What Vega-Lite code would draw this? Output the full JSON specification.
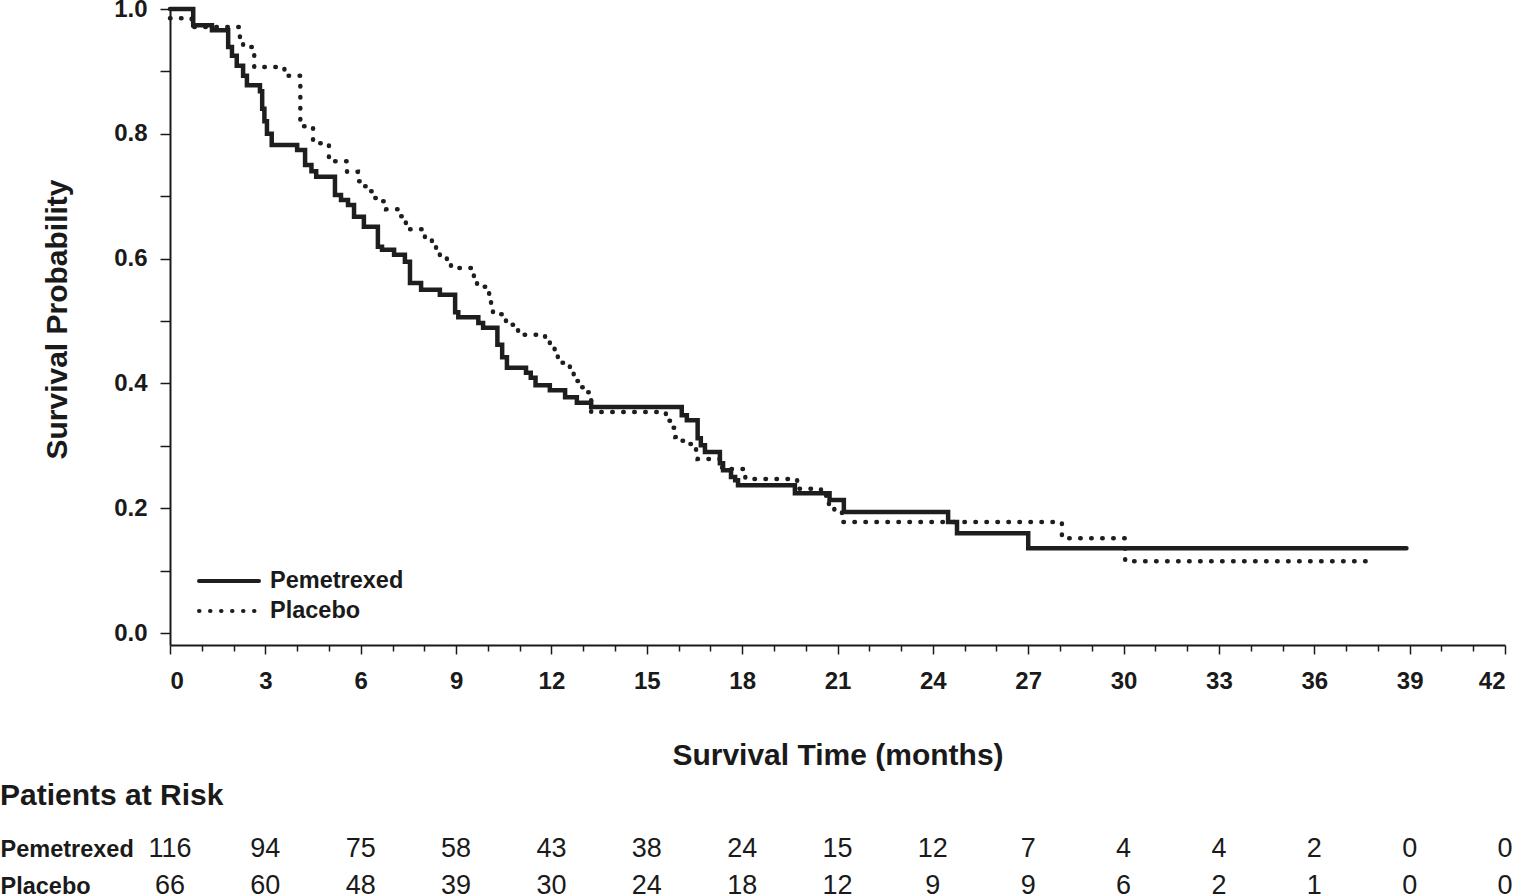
{
  "$schema": "https://vega.github.io/schema/vega-lite/v6.json",
  "padding": {"top": -3, "left": 0, "right": 0, "bottom": 0},
  "background": "white",
  "config": {"view": {"stroke": null}, "font": "Liberation Sans", "concat": {"spacing": 11}},
  "resolve": {"scale": {"x": "independent", "y": "independent"}},
  "datasets": {
    "km": [
      {"arm":"Pemetrexed","t":0,"s":1.0},{"arm":"Pemetrexed","t":0.73,"s":0.974},{"arm":"Pemetrexed","t":1.32,"s":0.966},{"arm":"Pemetrexed","t":1.83,"s":0.939},{"arm":"Pemetrexed","t":1.95,"s":0.925},{"arm":"Pemetrexed","t":2.1,"s":0.909},{"arm":"Pemetrexed","t":2.3,"s":0.893},{"arm":"Pemetrexed","t":2.42,"s":0.878},{"arm":"Pemetrexed","t":2.83,"s":0.868},{"arm":"Pemetrexed","t":2.9,"s":0.84},{"arm":"Pemetrexed","t":2.97,"s":0.82},{"arm":"Pemetrexed","t":3.05,"s":0.80},{"arm":"Pemetrexed","t":3.2,"s":0.782},{"arm":"Pemetrexed","t":4.0,"s":0.774},{"arm":"Pemetrexed","t":4.25,"s":0.75},{"arm":"Pemetrexed","t":4.45,"s":0.74},{"arm":"Pemetrexed","t":4.6,"s":0.731},{"arm":"Pemetrexed","t":5.19,"s":0.702},{"arm":"Pemetrexed","t":5.38,"s":0.694},{"arm":"Pemetrexed","t":5.6,"s":0.686},{"arm":"Pemetrexed","t":5.79,"s":0.667},{"arm":"Pemetrexed","t":6.1,"s":0.651},{"arm":"Pemetrexed","t":6.54,"s":0.619},{"arm":"Pemetrexed","t":6.67,"s":0.614},{"arm":"Pemetrexed","t":7.05,"s":0.606},{"arm":"Pemetrexed","t":7.39,"s":0.595},{"arm":"Pemetrexed","t":7.55,"s":0.561},{"arm":"Pemetrexed","t":7.9,"s":0.55},{"arm":"Pemetrexed","t":8.49,"s":0.542},{"arm":"Pemetrexed","t":8.97,"s":0.514},{"arm":"Pemetrexed","t":9.07,"s":0.506},{"arm":"Pemetrexed","t":9.7,"s":0.497},{"arm":"Pemetrexed","t":9.85,"s":0.489},{"arm":"Pemetrexed","t":10.3,"s":0.462},{"arm":"Pemetrexed","t":10.45,"s":0.442},{"arm":"Pemetrexed","t":10.6,"s":0.425},{"arm":"Pemetrexed","t":11.2,"s":0.417},{"arm":"Pemetrexed","t":11.35,"s":0.409},{"arm":"Pemetrexed","t":11.5,"s":0.397},{"arm":"Pemetrexed","t":11.95,"s":0.389},{"arm":"Pemetrexed","t":12.43,"s":0.378},{"arm":"Pemetrexed","t":12.8,"s":0.369},{"arm":"Pemetrexed","t":13.25,"s":0.362},{"arm":"Pemetrexed","t":16.1,"s":0.349},{"arm":"Pemetrexed","t":16.26,"s":0.341},{"arm":"Pemetrexed","t":16.6,"s":0.312},{"arm":"Pemetrexed","t":16.7,"s":0.301},{"arm":"Pemetrexed","t":16.83,"s":0.29},{"arm":"Pemetrexed","t":17.3,"s":0.272},{"arm":"Pemetrexed","t":17.4,"s":0.261},{"arm":"Pemetrexed","t":17.65,"s":0.25},{"arm":"Pemetrexed","t":17.78,"s":0.245},{"arm":"Pemetrexed","t":17.87,"s":0.237},{"arm":"Pemetrexed","t":19.66,"s":0.224},{"arm":"Pemetrexed","t":20.75,"s":0.213},{"arm":"Pemetrexed","t":21.2,"s":0.194},{"arm":"Pemetrexed","t":24.48,"s":0.178},{"arm":"Pemetrexed","t":24.76,"s":0.16},{"arm":"Pemetrexed","t":27.0,"s":0.136},{"arm":"Pemetrexed","t":38.9,"s":0.136},
      {"arm":"Placebo","t":0,"s":0.985},{"arm":"Placebo","t":0.68,"s":0.971},{"arm":"Placebo","t":2.2,"s":0.952},{"arm":"Placebo","t":2.3,"s":0.939},{"arm":"Placebo","t":2.65,"s":0.907},{"arm":"Placebo","t":3.6,"s":0.893},{"arm":"Placebo","t":4.1,"s":0.812},{"arm":"Placebo","t":4.5,"s":0.785},{"arm":"Placebo","t":5.0,"s":0.756},{"arm":"Placebo","t":5.57,"s":0.739},{"arm":"Placebo","t":5.91,"s":0.724},{"arm":"Placebo","t":6.1,"s":0.716},{"arm":"Placebo","t":6.29,"s":0.708},{"arm":"Placebo","t":6.42,"s":0.697},{"arm":"Placebo","t":6.7,"s":0.692},{"arm":"Placebo","t":6.8,"s":0.679},{"arm":"Placebo","t":7.24,"s":0.668},{"arm":"Placebo","t":7.42,"s":0.657},{"arm":"Placebo","t":7.55,"s":0.647},{"arm":"Placebo","t":8.02,"s":0.633},{"arm":"Placebo","t":8.24,"s":0.627},{"arm":"Placebo","t":8.37,"s":0.617},{"arm":"Placebo","t":8.49,"s":0.604},{"arm":"Placebo","t":8.71,"s":0.599},{"arm":"Placebo","t":8.84,"s":0.585},{"arm":"Placebo","t":9.56,"s":0.571},{"arm":"Placebo","t":9.66,"s":0.555},{"arm":"Placebo","t":10.04,"s":0.538},{"arm":"Placebo","t":10.1,"s":0.524},{"arm":"Placebo","t":10.16,"s":0.511},{"arm":"Placebo","t":10.57,"s":0.494},{"arm":"Placebo","t":10.82,"s":0.489},{"arm":"Placebo","t":10.95,"s":0.478},{"arm":"Placebo","t":11.8,"s":0.47},{"arm":"Placebo","t":11.95,"s":0.457},{"arm":"Placebo","t":12.1,"s":0.447},{"arm":"Placebo","t":12.2,"s":0.433},{"arm":"Placebo","t":12.58,"s":0.417},{"arm":"Placebo","t":12.7,"s":0.404},{"arm":"Placebo","t":12.87,"s":0.394},{"arm":"Placebo","t":13.06,"s":0.386},{"arm":"Placebo","t":13.18,"s":0.375},{"arm":"Placebo","t":13.25,"s":0.354},{"arm":"Placebo","t":15.6,"s":0.34},{"arm":"Placebo","t":15.8,"s":0.329},{"arm":"Placebo","t":15.9,"s":0.314},{"arm":"Placebo","t":16.1,"s":0.308},{"arm":"Placebo","t":16.36,"s":0.303},{"arm":"Placebo","t":16.55,"s":0.293},{"arm":"Placebo","t":16.6,"s":0.279},{"arm":"Placebo","t":17.37,"s":0.263},{"arm":"Placebo","t":18.1,"s":0.247},{"arm":"Placebo","t":19.73,"s":0.231},{"arm":"Placebo","t":20.48,"s":0.226},{"arm":"Placebo","t":20.64,"s":0.213},{"arm":"Placebo","t":20.73,"s":0.2},{"arm":"Placebo","t":20.9,"s":0.196},{"arm":"Placebo","t":21.14,"s":0.178},{"arm":"Placebo","t":28.06,"s":0.152},{"arm":"Placebo","t":30.05,"s":0.115},{"arm":"Placebo","t":37.8,"s":0.115}
    ],
    "risk": [
      {"arm":"Pemetrexed","t":0,"n":116},{"arm":"Pemetrexed","t":3,"n":94},{"arm":"Pemetrexed","t":6,"n":75},{"arm":"Pemetrexed","t":9,"n":58},{"arm":"Pemetrexed","t":12,"n":43},{"arm":"Pemetrexed","t":15,"n":38},{"arm":"Pemetrexed","t":18,"n":24},{"arm":"Pemetrexed","t":21,"n":15},{"arm":"Pemetrexed","t":24,"n":12},{"arm":"Pemetrexed","t":27,"n":7},{"arm":"Pemetrexed","t":30,"n":4},{"arm":"Pemetrexed","t":33,"n":4},{"arm":"Pemetrexed","t":36,"n":2},{"arm":"Pemetrexed","t":39,"n":0},{"arm":"Pemetrexed","t":42,"n":0},
      {"arm":"Placebo","t":0,"n":66},{"arm":"Placebo","t":3,"n":60},{"arm":"Placebo","t":6,"n":48},{"arm":"Placebo","t":9,"n":39},{"arm":"Placebo","t":12,"n":30},{"arm":"Placebo","t":15,"n":24},{"arm":"Placebo","t":18,"n":18},{"arm":"Placebo","t":21,"n":12},{"arm":"Placebo","t":24,"n":9},{"arm":"Placebo","t":27,"n":9},{"arm":"Placebo","t":30,"n":6},{"arm":"Placebo","t":33,"n":2},{"arm":"Placebo","t":36,"n":1},{"arm":"Placebo","t":39,"n":0},{"arm":"Placebo","t":42,"n":0}
    ]
  },
  "vconcat": [
    {
      "width": 1335,
      "height": 636,
      "data": {"name": "km"},
      "mark": {"type": "line", "interpolate": "step-after", "strokeWidth": 4.5, "strokeCap": "round", "color": "#1e1e1e"},
      "encoding": {
        "x": {
          "field": "t", "type": "quantitative",
          "scale": {"domain": [0, 42], "nice": false, "zero": false},
          "axis": {
            "title": "Survival Time (months)",
            "values": [0,1,2,3,4,5,6,7,8,9,10,11,12,13,14,15,16,17,18,19,20,21,22,23,24,25,26,27,28,29,30,31,32,33,34,35,36,37,38,39,40,41,42],
            "labelExpr": "datum.value % 3 == 0 ? datum.label : ''",
            "grid": false,
            "domainColor": "#1a1a1a", "domainWidth": 2,
            "tickColor": "#1a1a1a", "tickWidth": 1.5,
            "tickSize": {"condition": {"test": "datum.value % 3 == 0", "value": 9}, "value": 6},
            "labelPadding": 15, "labelFontSize": 24, "labelFontWeight": "bold", "labelColor": "#1a1a1a", "labelFont": "Liberation Sans",
            "titleFontSize": 30, "titleFontWeight": "bold", "titleColor": "#1a1a1a", "titleFont": "Liberation Sans", "titlePadding": 47
          }
        },
        "y": {
          "field": "s", "type": "quantitative",
          "scale": {"domain": [-0.0192, 1], "nice": false, "zero": false},
          "axis": {
            "title": "Survival Probability",
            "values": [0,0.1,0.2,0.3,0.4,0.5,0.6,0.7,0.8,0.9,1.0],
            "labelExpr": "round(datum.value*10) % 2 == 0 ? format(datum.value, '.1f') : ''",
            "grid": false,
            "domainColor": "#1a1a1a", "domainWidth": 2,
            "tickColor": "#1a1a1a", "tickWidth": 1.5, "tickSize": 10,
            "labelPadding": 13, "labelFontSize": 24, "labelFontWeight": "bold", "labelColor": "#1a1a1a", "labelFont": "Liberation Sans",
            "titleFontSize": 30, "titleFontWeight": "bold", "titleColor": "#1a1a1a", "titleFont": "Liberation Sans", "titlePadding": 41, "titleY": 310
          }
        },
        "strokeDash": {
          "field": "arm", "type": "nominal",
          "scale": {"domain": ["Pemetrexed", "Placebo"], "range": [[1, 0], [0.5, 10.5]]},
          "legend": {
            "title": null, "orient": "none", "legendX": 27, "legendY": 560, "padding": 0,
            "symbolType": "M-3,0H3", "symbolSize": 400, "symbolOffset": 20, "symbolStrokeWidth": 4, "symbolStrokeColor": "#1e1e1e",
            "labelFontSize": 23.5, "labelFontWeight": "bold", "labelColor": "#1a1a1a", "labelFont": "Liberation Sans",
            "labelOffset": 29, "rowPadding": 6,
            "encode": {"symbols": {"update": {"strokeCap": {"value": "round"}}}}
          }
        }
      }
    },
    {
      "width": 1335,
      "height": 55.5,
      "data": {"name": "risk"},
      "title": {"text": "Patients at Risk", "anchor": "start", "frame": "bounds", "fontSize": 30, "fontWeight": "bold", "baseline": "alphabetic", "offset": 0, "color": "#1a1a1a", "font": "Liberation Sans"},
      "mark": {"type": "text", "fontSize": 27, "color": "#1a1a1a", "font": "Liberation Sans"},
      "encoding": {
        "x": {"field": "t", "type": "quantitative", "scale": {"domain": [0, 42], "nice": false, "zero": false}, "axis": null},
        "y": {
          "field": "arm", "type": "nominal",
          "scale": {"type": "point", "padding": 0.25, "domain": ["Pemetrexed", "Placebo"]},
          "axis": {"title": null, "domain": false, "ticks": false, "tickSize": 0, "labelAlign": "left", "labelPadding": 170, "labelFontSize": 23.5, "labelFontWeight": "bold", "labelColor": "#1a1a1a", "labelFont": "Liberation Sans"}
        },
        "text": {"field": "n", "type": "quantitative"}
      }
    }
  ]
}
